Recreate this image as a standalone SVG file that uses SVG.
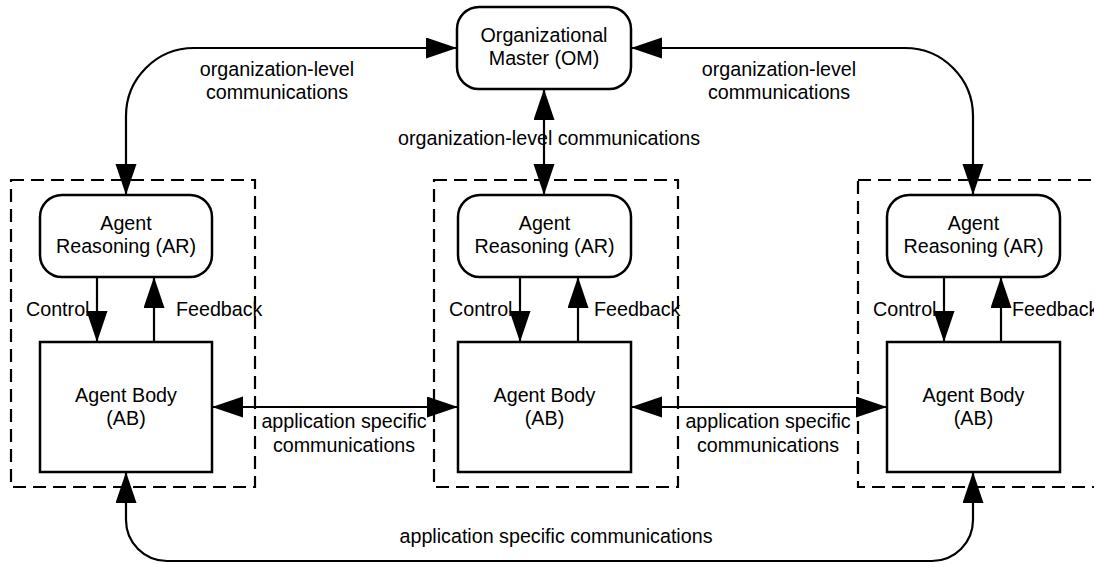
<svg xmlns="http://www.w3.org/2000/svg" width="1094" height="564" viewBox="0 0 1094 564">
<style>
text{font-family:"Liberation Sans",Arial,sans-serif;font-size:19.7px;fill:#000}
.c{text-anchor:middle}
.box{fill:#fff;stroke:#000;stroke-width:2.5}
.dash{fill:none;stroke:#000;stroke-width:2.2;stroke-dasharray:13 7}
.ln{fill:none;stroke:#000;stroke-width:2.2}
.a2{marker-start:url(#ah);marker-end:url(#ah)}
.a1{marker-end:url(#ah)}
</style>
<defs>
<marker id="ah" markerUnits="userSpaceOnUse" markerWidth="32" markerHeight="22" refX="31" refY="10.5" orient="auto-start-reverse" viewBox="0 0 32 22">
<path d="M0,0 L31,10.5 L0,21 z" fill="#000"/>
</marker>
</defs>
<rect width="1094" height="564" fill="#fff"/>
<g id="containers">
<rect class="dash" x="11" y="180" width="244" height="307"/>
<rect class="dash" x="434" y="180" width="244" height="307"/>
<rect class="dash" x="858" y="180" width="300" height="307"/>
</g>
<g id="connectors">
<path class="ln a2" d="M457,48 H194 A68,68 0 0 0 126,116 V195"/>
<path class="ln a2" d="M631,48 H905 A68,68 0 0 1 973,116 V195"/>
<path class="ln a2" d="M544,89 V195"/>
<path class="ln a2" d="M212,407 H458"/>
<path class="ln a2" d="M631,407 H887"/>
<path class="ln a2" d="M126,472 V520 A41,41 0 0 0 167,561 H932 A41,41 0 0 0 973,520 V472"/>
<path class="ln a1" d="M97,277 V342"/>
<path class="ln a1" d="M154,342 V277"/>
<path class="ln a1" d="M520,277 V342"/>
<path class="ln a1" d="M578,342 V277"/>
<path class="ln a1" d="M944,277 V342"/>
<path class="ln a1" d="M1001,342 V277"/>
<text class="c" x="277" y="76">organization-level</text>
<text class="c" x="277" y="99">communications</text>
<text class="c" x="779" y="76">organization-level</text>
<text class="c" x="779" y="99">communications</text>
<text class="c" x="549" y="145">organization-level communications</text>
<text class="c" x="344" y="428">application specific</text>
<text class="c" x="344" y="452">communications</text>
<text class="c" x="768" y="428">application specific</text>
<text class="c" x="768" y="452">communications</text>
<text class="c" x="556" y="543">application specific communications</text>
<text x="26" y="316">Control</text>
<text x="176" y="316">Feedback</text>
<text x="449" y="316">Control</text>
<text x="594" y="316">Feedback</text>
<text x="873" y="316">Control</text>
<text x="1012" y="316">Feedback</text>
</g>
<g id="om">
<rect class="box" x="457" y="7" width="174" height="82" rx="22"/>
<text class="c" x="544" y="42">Organizational</text>
<text class="c" x="544" y="65">Master (OM)</text>
</g>
<g id="ar1">
<rect class="box" x="40" y="195" width="172" height="82" rx="22"/>
<text class="c" x="126" y="230">Agent</text>
<text class="c" x="126" y="253">Reasoning (AR)</text>
</g>
<g id="ab1">
<rect class="box" x="40" y="342" width="172" height="130"/>
<text class="c" x="126" y="402">Agent Body</text>
<text class="c" x="126" y="425">(AB)</text>
</g>
<g id="ar2">
<rect class="box" x="458" y="195" width="173" height="82" rx="22"/>
<text class="c" x="544.5" y="230">Agent</text>
<text class="c" x="544.5" y="253">Reasoning (AR)</text>
</g>
<g id="ab2">
<rect class="box" x="458" y="342" width="173" height="130"/>
<text class="c" x="544.5" y="402">Agent Body</text>
<text class="c" x="544.5" y="425">(AB)</text>
</g>
<g id="ar3">
<rect class="box" x="887" y="195" width="173" height="82" rx="22"/>
<text class="c" x="973.5" y="230">Agent</text>
<text class="c" x="973.5" y="253">Reasoning (AR)</text>
</g>
<g id="ab3">
<rect class="box" x="887" y="342" width="173" height="130"/>
<text class="c" x="973.5" y="402">Agent Body</text>
<text class="c" x="973.5" y="425">(AB)</text>
</g>
</svg>
